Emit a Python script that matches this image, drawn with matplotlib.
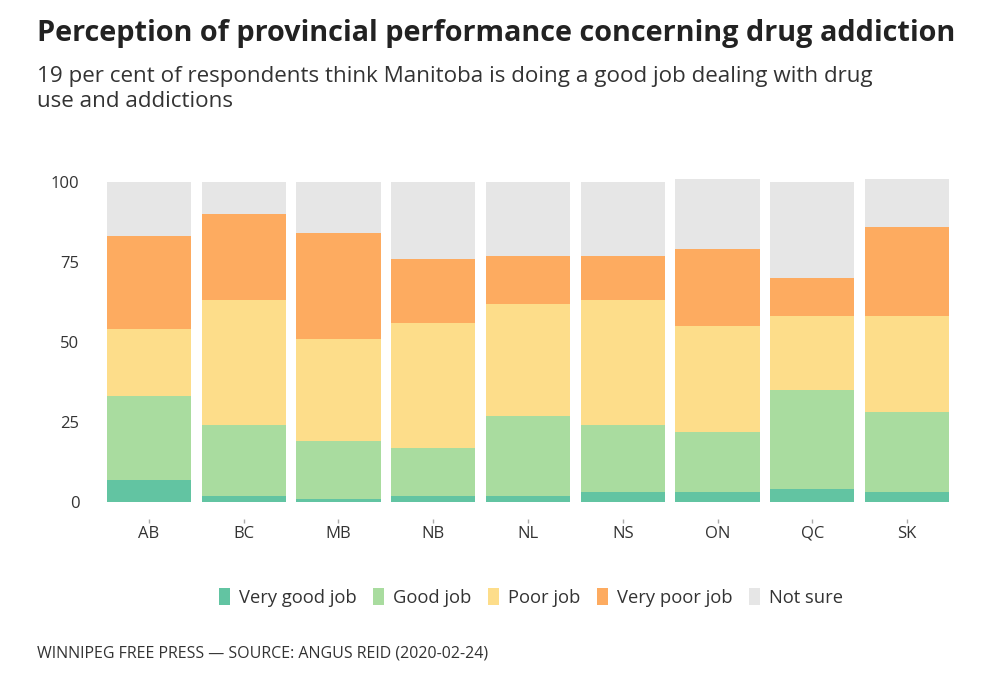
import numpy as np
import matplotlib.pyplot as plt
from matplotlib.patches import Patch

plt.rcParams['font.family'] = ['Open Sans', 'DejaVu Sans']

provinces = ['AB', 'BC', 'MB', 'NB', 'NL', 'NS', 'ON', 'QC', 'SK']
very_good = [7, 2, 1, 2, 2, 3, 3, 4, 3]
good = [26, 22, 18, 15, 25, 21, 19, 31, 25]
poor = [21, 39, 32, 39, 35, 39, 33, 23, 30]
very_poor = [29, 27, 33, 20, 15, 14, 24, 12, 28]
not_sure = [17, 10, 16, 24, 23, 23, 22, 30, 15]

series = [
    ('Very good job', very_good, '#62c4a2'),
    ('Good job', good, '#a9dc9f'),
    ('Poor job', poor, '#fddd8a'),
    ('Very poor job', very_poor, '#fdab60'),
    ('Not sure', not_sure, '#e6e6e6'),
]

fig = plt.figure(figsize=(10, 6.92), dpi=100)
ax = fig.add_axes([0.1016, 0.2746, 0.8528, 0.4694])

x = np.arange(len(provinces))
bottom = np.zeros(len(provinces))
for name, vals, col in series:
    ax.bar(x, vals, width=0.89, bottom=bottom, color=col, label=name, linewidth=0)
    bottom += np.array(vals)

ax.set_xlim(-0.5, len(provinces) - 0.5)
ax.set_ylim(0, 101.5)
ax.set_yticks([0, 25, 50, 75, 100])
ax.set_xticks(x)
ax.set_xticklabels(provinces)
for s in ax.spines.values():
    s.set_visible(False)
ax.tick_params(axis='y', length=0, labelsize=12, labelcolor='#333333', pad=16)
ax.tick_params(axis='x', length=3, width=1, color='#aaaaaa', labelsize=12,
               labelcolor='#333333', pad=2, direction='out')
# ticks sit a little below the bars
ax.spines['bottom'].set_position(('outward', 12))

fig.text(0.037, 0.951, 'Perception of provincial performance concerning drug addiction',
         fontsize=20.8, fontweight='bold', color='#222222', va='center', ha='left')
fig.text(0.037, 0.871, '19 per cent of respondents think Manitoba is doing a good job dealing with drug\nuse and addictions',
         fontsize=16.1, color='#333333', va='center', ha='left', linespacing=1.27)
fig.text(0.037, 0.056, 'WINNIPEG FREE PRESS \u2014 SOURCE: ANGUS REID (2020-02-24)',
         fontsize=11.5, color='#333333', va='center', ha='left')

handles = [Patch(facecolor=c, label=n) for n, _, c in series]
fig.legend(handles=handles, loc='center', bbox_to_anchor=(0.531, 0.137), ncol=5,
           frameon=False, fontsize=13.2, handlelength=0.6, handleheight=1.1,
           handletextpad=0.5, columnspacing=0.9, labelcolor='#333333')

fig.savefig('out.png', dpi=100)
